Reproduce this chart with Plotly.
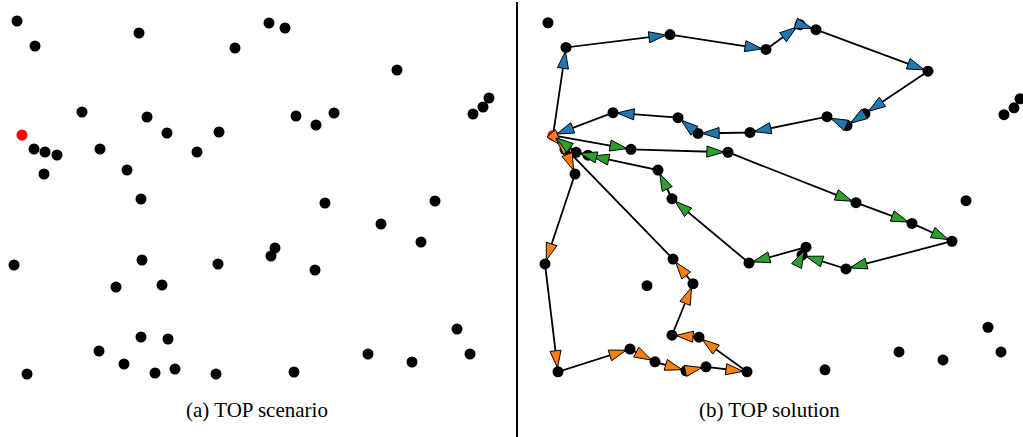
import math
import plotly.graph_objects as go

# Node coordinates (scenario units, y measured downward); node 0 is the depot
node_x = [22, 17, 35, 139, 235, 82, 147, 167, 219, 34, 45, 57, 100, 197, 44, 127,
          269, 285, 397, 296, 316, 334, 473, 483, 489,
          141, 14, 142, 218, 116, 162, 141, 168, 99, 124, 27, 155, 175, 216,
          325, 435, 381, 421, 275, 271, 315, 457, 368, 412, 470, 294]
node_y = [135, 21, 46, 33, 48, 112, 117, 133, 132, 149, 152, 155, 149, 152, 174, 170,
          23, 28, 70, 116, 125, 113, 114, 107, 98,
          199, 265, 260, 264, 287, 285, 337, 339, 351, 364, 374, 373, 369, 374,
          203, 201, 224, 242, 248, 256, 270, 329, 354, 362, 354, 372]

# Routes of the TOP solution (node indices)
route_blue = [0, 2, 3, 4, 16, 17, 18, 21, 20, 19, 8, 7, 6, 5, 0]
route_orange = [0, 9, 14, 26, 35, 33, 34, 36, 37, 38, 32, 31, 30, 27, 0]
route_green = [0, 12, 13, 39, 41, 42, 45, 44, 43, 28, 25, 15, 11, 10, 0]

captions = ["(a) TOP scenario", "(b) TOP solution"]

routes = [(route_blue, "#1f77b4"), (route_orange, "#ff7f0e"), (route_green, "#2ca02c")]

fig = go.Figure()

cust_x = node_x[1:]
cust_y = node_y[1:]

# Left panel: scenario
fig.add_trace(go.Scatter(x=cust_x, y=cust_y, mode="markers",
                         marker=dict(size=11, color="black", line=dict(width=0)),
                         xaxis="x", yaxis="y", hoverinfo="skip"))
fig.add_trace(go.Scatter(x=[node_x[0]], y=[node_y[0]], mode="markers",
                         marker=dict(size=11, color="#ff0000", line=dict(width=0)),
                         xaxis="x", yaxis="y", hoverinfo="skip"))

# Right panel: route lines
for route, color in routes:
    fig.add_trace(go.Scatter(x=[node_x[i] for i in route], y=[node_y[i] for i in route],
                             mode="lines", line=dict(color="black", width=1.8),
                             xaxis="x2", yaxis="y2", hoverinfo="skip"))

fig.add_trace(go.Scatter(x=cust_x, y=cust_y, mode="markers",
                         marker=dict(size=11, color="black", line=dict(width=0)),
                         xaxis="x2", yaxis="y2", hoverinfo="skip"))
fig.add_trace(go.Scatter(x=[node_x[0]], y=[node_y[0]], mode="markers",
                         marker=dict(size=11, color="#ff0000", line=dict(width=0)),
                         xaxis="x2", yaxis="y2", hoverinfo="skip"))

# Arrow heads near the end of each leg
for route, color in routes:
    ax, ay, ang = [], [], []
    for a, b in zip(route[:-1], route[1:]):
        dx = node_x[b] - node_x[a]
        dy = node_y[b] - node_y[a]
        L = math.hypot(dx, dy)
        ux, uy = dx / L, dy / L
        ax.append(node_x[b] - 4 * ux)
        ay.append(node_y[b] - 4 * uy)
        ang.append(math.degrees(math.atan2(dx, -dy)))
    fig.add_trace(go.Scatter(x=ax, y=ay, mode="markers",
                             marker=dict(symbol="arrow", size=18, angle=ang, color=color,
                                         line=dict(color="black", width=1)),
                             xaxis="x2", yaxis="y2", hoverinfo="skip"))

fig.update_layout(
    width=1023, height=437,
    margin=dict(l=0, r=0, t=0, b=0),
    paper_bgcolor="white", plot_bgcolor="white",
    showlegend=False, hovermode=False,
    xaxis=dict(domain=[0, 510 / 1023], range=[0, 510], visible=False),
    yaxis=dict(domain=[0, 1], range=[437, 0], visible=False),
    xaxis2=dict(domain=[531 / 1023, 1], range=[0, 492], visible=False, anchor="y2"),
    yaxis2=dict(domain=[0, 1], range=[440, -2], visible=False, anchor="x2"),
    shapes=[dict(type="line", xref="paper", yref="paper",
                 x0=517 / 1023, x1=517 / 1023, y0=0, y1=1 - 2 / 437,
                 line=dict(color="black", width=2))],
    annotations=[
        dict(text=captions[0], x=257 / 1023, y=1 - 410 / 437, xref="paper", yref="paper",
             showarrow=False, xanchor="center", yanchor="middle",
             font=dict(family="Liberation Serif", size=21, color="black")),
        dict(text=captions[1], x=769 / 1023, y=1 - 410 / 437, xref="paper", yref="paper",
             showarrow=False, xanchor="center", yanchor="middle",
             font=dict(family="Liberation Serif", size=21, color="black")),
    ],
)

fig.write_html("out.html", config={"displayModeBar": False},
               post_script="document.body.style.margin='0px';")
